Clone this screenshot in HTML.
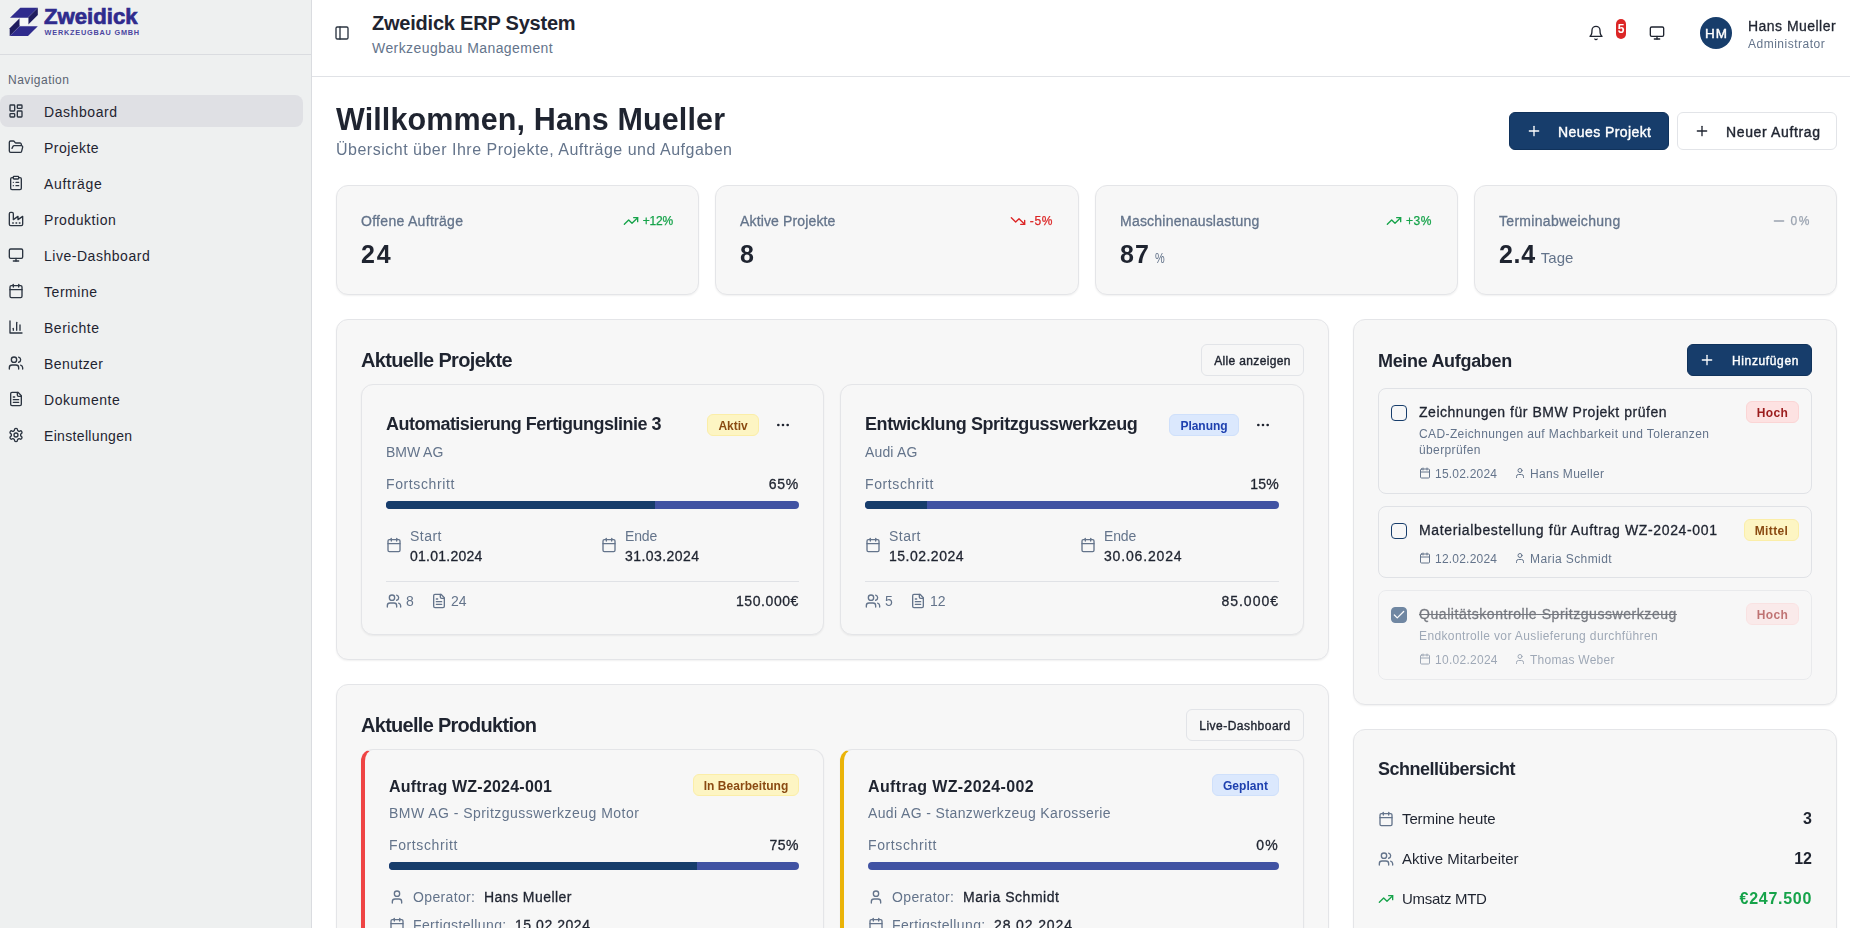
<!DOCTYPE html>
<html lang="de">
<head>
<meta charset="utf-8">
<title>Zweidick ERP System</title>
<style>
*{box-sizing:border-box;margin:0;padding:0}
html,body{width:1850px;height:928px;overflow:hidden;background:#fff}
body{font-family:"Liberation Sans",sans-serif;color:#1f2430;position:relative;font-size:14px}
svg{display:block}
.ic{fill:none;stroke:currentColor;stroke-width:2;stroke-linecap:round;stroke-linejoin:round}
.abs{position:absolute}
.muted{color:#64748b}
/* sidebar */
#side{position:absolute;left:0;top:0;width:312px;height:928px;background:#eef0f0;border-right:1px solid #dadce0}
#side .hd{position:absolute;left:0;top:0;width:311px;height:55px;border-bottom:1px solid #dadce0}
#side .lbl{position:absolute;left:8px;top:72px;font-size:12px;line-height:16px;color:#5b6472}
.nav{position:absolute;left:0;width:303px;height:32px;border-radius:8px;color:#1f2430;font-size:14px;line-height:32px}
.nav.on{background:#dfe0e4}
.nav svg{position:absolute;left:8px;top:8px;width:16px;height:16px;color:#2b3440}
.nav span{position:absolute;left:44px;top:1px;white-space:nowrap}
/* header */
#top{position:absolute;left:312px;top:0;width:1538px;height:77px;border-bottom:1px solid #e0e2e6;background:#fff}
/* main */
.card{position:absolute;background:#f7f7f7;border:1px solid #e4e5e8;border-radius:12px;box-shadow:0 1px 2px rgba(0,0,0,.06)}
.btn{position:absolute;border-radius:6px;font-size:14px;font-weight:normal;-webkit-text-stroke:.4px;white-space:nowrap}
.btn.navy{background:#173d6b;color:#fff;border:1px solid #10325b}
.btn.out{background:#fff;border:1px solid #e2e4e8;color:#1f2430}
.t{position:absolute;white-space:nowrap}
.badge{position:absolute;border-radius:6px;font-size:12px;font-weight:bold;text-align:center;white-space:nowrap}
.bar{position:absolute;height:8px;border-radius:4px;background:#4153a3;overflow:hidden}
.bar i{display:block;height:8px;background:#173d6b}

.sl{left:24px;top:25px;font-size:14px;line-height:20px;-webkit-text-stroke:.3px}
.sn{left:24px;top:52px;font-size:25px;line-height:32px;font-weight:bold;color:#1f2430}
.sn .un{font-weight:normal;color:#64748b;letter-spacing:0}
.tr{position:absolute;right:25px;top:25px;height:20px;display:flex;align-items:center;font-size:12px;line-height:20px}
.tr svg{width:16px;height:16px;margin-right:4px}
.tr span{-webkit-text-stroke:.25px}
.tr.up{color:#16a34a}.tr.dn{color:#dc2626}.tr.fl{color:#9aa3b0}

.card.in{border-radius:12px}
.s14{font-size:14px;line-height:20px}
.s12{font-size:12px}
.med{color:#1f2430;-webkit-text-stroke:.3px}
.r{text-align:right}
.ct{font-size:20px;line-height:28px;font-weight:bold;color:#1f2430}
.ct2{font-size:18px;line-height:28px;font-weight:bold;color:#1f2430}
.pt{left:24px;top:25px;font-size:18px;line-height:28px;font-weight:bold;color:#1f2430}
.pdt{left:24px;top:25px;font-size:16px;line-height:24px;font-weight:bold;color:#1f2430}
.btn.sm{font-size:12px;line-height:32px;text-align:center;background:transparent}
.btn.navy.sm{background:#173d6b}
.by{background:#fdf5c3;border:1px solid #fbeea8;color:#8a4a12}
.bb{background:#dbe8fd;border:1px solid #cfe0fb;color:#1e40af}
.br{background:#fde2e2;border:1px solid #fbd5d5;color:#9b1c1c}
.task{position:absolute;left:1378px;width:434px;border:1px solid #e0e2e6;border-radius:8px}
.task.done{opacity:.6}
.task.done .tt{text-decoration:line-through}
.cb{position:absolute;left:12px;top:16px;width:16px;height:16px;border:1px solid #173d6b;border-radius:4px}
.cb.on{background:#173d6b;display:flex;align-items:center;justify-content:center}
.qv{font-size:16px;line-height:24px;font-weight:bold;color:#1f2430}
</style>
<style id="fit">
#h-title{letter-spacing:-0.217px}
#h-sub{letter-spacing:0.427px}
#h-name{letter-spacing:0.465px}
#h-role{letter-spacing:0.501px}
#h1{letter-spacing:0.124px}
#h1sub{letter-spacing:0.502px}
#b-np{letter-spacing:0.422px}
#b-na{letter-spacing:0.634px}
#s1l{letter-spacing:0.298px}
#s2l{letter-spacing:0.145px}
#s3l{letter-spacing:0.215px}
#s4l{letter-spacing:0.298px}
#s1t{letter-spacing:-0.177px}
#s2t{letter-spacing:0.628px}
#s3t{letter-spacing:0.570px}
#s4t{letter-spacing:1.556px}
#c1t{letter-spacing:-0.662px}
#c2t{letter-spacing:-0.717px}
#c3t{letter-spacing:-0.319px}
#c4t{letter-spacing:-0.510px}
#b-all{letter-spacing:0.353px}
#b-live{letter-spacing:0.483px}
#b-add{letter-spacing:0.631px}
#p1{letter-spacing:-0.520px}
#p2{letter-spacing:-0.426px}
#p1b{letter-spacing:-0.036px}
#p2b{letter-spacing:-0.057px}
#p1c{letter-spacing:-0.053px}
#p2c{letter-spacing:0.154px}
#p1f{letter-spacing:0.607px}
#p2f{letter-spacing:0.607px}
#d1f{letter-spacing:0.607px}
#d2f{letter-spacing:0.607px}
#p1p{letter-spacing:0.734px}
#p2p{letter-spacing:0.234px}
#p1s1{letter-spacing:0.455px}
#p2s1{letter-spacing:0.455px}
#p1s2{letter-spacing:0.247px}
#p1e1{letter-spacing:-0.168px}
#p2e1{letter-spacing:-0.168px}
#p1e2{letter-spacing:0.436px}
#p1pr{letter-spacing:0.585px}
#p2s2{letter-spacing:0.491px}
#p2e2{letter-spacing:0.836px}
#p2pr{letter-spacing:0.998px}
#d1{letter-spacing:0.214px}
#d2{letter-spacing:0.364px}
#d1b{letter-spacing:0.045px}
#d2b{letter-spacing:0.055px}
#d1s{letter-spacing:0.464px}
#d2s{letter-spacing:0.371px}
#d1o1{letter-spacing:0.357px}
#d2o1{letter-spacing:0.357px}
#d1o2{letter-spacing:0.447px}
#d2o2{letter-spacing:0.544px}
#d1f1{letter-spacing:0.376px}
#d2f1{letter-spacing:0.376px}
#d1f2{letter-spacing:0.547px}
#d2f2{letter-spacing:0.880px}
#d1p{letter-spacing:0.484px}
#d2p{letter-spacing:1.266px}
#t1{letter-spacing:0.520px}
#t2{letter-spacing:0.644px}
#t3{letter-spacing:0.557px}
#t1b{letter-spacing:0.333px}
#t2b{letter-spacing:0.391px}
#t3b{letter-spacing:0.333px}
#t1d{letter-spacing:0.386px}
#t3d{letter-spacing:0.380px}
#t1dt{letter-spacing:0.215px}
#t2dt{letter-spacing:0.215px}
#t3dt{letter-spacing:0.271px}
#t1n{letter-spacing:0.300px}
#t2n{letter-spacing:0.409px}
#t3n{letter-spacing:0.235px}
#q1{letter-spacing:-0.114px}
#q2{letter-spacing:0.043px}
#q3{letter-spacing:-0.289px}
#q3v{letter-spacing:0.709px}
#sn1{letter-spacing:1.788px}
#sn3{letter-spacing:0.988px}
#sn4{letter-spacing:0.717px}
#n0{letter-spacing:0.562px}
#n1{letter-spacing:0.463px}
#n2{letter-spacing:0.695px}
#n3{letter-spacing:0.540px}
#n4{letter-spacing:0.527px}
#n5{letter-spacing:0.551px}
#n6{letter-spacing:0.520px}
#n7{letter-spacing:0.422px}
#n8{letter-spacing:0.526px}
#n9{letter-spacing:0.336px}
#navl{letter-spacing:0.466px}
</style></head>
<body>
<svg width="0" height="0" style="position:absolute">
<defs>
<symbol id="i-dash" viewBox="0 0 24 24"><rect width="7" height="9" x="3" y="3" rx="1"/><rect width="7" height="5" x="14" y="3" rx="1"/><rect width="7" height="9" x="14" y="12" rx="1"/><rect width="7" height="5" x="3" y="16" rx="1"/></symbol>
<symbol id="i-folder" viewBox="0 0 24 24"><path d="m6 14 1.5-2.9A2 2 0 0 1 9.24 10H20a2 2 0 0 1 1.94 2.5l-1.54 6a2 2 0 0 1-1.95 1.5H4a2 2 0 0 1-2-2V5a2 2 0 0 1 2-2h3.9a2 2 0 0 1 1.69.9l.81 1.2a2 2 0 0 0 1.67.9H18a2 2 0 0 1 2 2v2"/></symbol>
<symbol id="i-clip" viewBox="0 0 24 24"><rect width="8" height="4" x="8" y="2" rx="1" ry="1"/><path d="M16 4h2a2 2 0 0 1 2 2v14a2 2 0 0 1-2 2H6a2 2 0 0 1-2-2V6a2 2 0 0 1 2-2h2"/><path d="M12 11h4"/><path d="M12 16h4"/><path d="M8 11h.01"/><path d="M8 16h.01"/></symbol>
<symbol id="i-factory" viewBox="0 0 24 24"><path d="M2 20a2 2 0 0 0 2 2h16a2 2 0 0 0 2-2V8l-7 5V8l-7 5V4a2 2 0 0 0-2-2H4a2 2 0 0 0-2 2Z"/><path d="M17 18h1"/><path d="M12 18h1"/><path d="M7 18h1"/></symbol>
<symbol id="i-monitor" viewBox="0 0 24 24"><rect width="20" height="14" x="2" y="3" rx="2"/><line x1="8" x2="16" y1="21" y2="21"/><line x1="12" x2="12" y1="17" y2="21"/></symbol>
<symbol id="i-cal" viewBox="0 0 24 24"><path d="M8 2v4"/><path d="M16 2v4"/><rect width="18" height="18" x="3" y="4" rx="2"/><path d="M3 10h18"/></symbol>
<symbol id="i-chart" viewBox="0 0 24 24"><path d="M3 3v18h18"/><path d="M18 17V9"/><path d="M13 17V5"/><path d="M8 17v-3"/></symbol>
<symbol id="i-users" viewBox="0 0 24 24"><path d="M16 21v-2a4 4 0 0 0-4-4H6a4 4 0 0 0-4 4v2"/><circle cx="9" cy="7" r="4"/><path d="M22 21v-2a4 4 0 0 0-3-3.87"/><path d="M16 3.13a4 4 0 0 1 0 7.75"/></symbol>
<symbol id="i-file" viewBox="0 0 24 24"><path d="M15 2H6a2 2 0 0 0-2 2v16a2 2 0 0 0 2 2h12a2 2 0 0 0 2-2V7Z"/><path d="M14 2v4a2 2 0 0 0 2 2h4"/><path d="M10 9H8"/><path d="M16 13H8"/><path d="M16 17H8"/></symbol>
<symbol id="i-gear" viewBox="0 0 24 24"><path d="M12.22 2h-.44a2 2 0 0 0-2 2v.18a2 2 0 0 1-1 1.73l-.43.25a2 2 0 0 1-2 0l-.15-.08a2 2 0 0 0-2.73.73l-.22.38a2 2 0 0 0 .73 2.73l.15.1a2 2 0 0 1 1 1.72v.51a2 2 0 0 1-1 1.74l-.15.09a2 2 0 0 0-.73 2.73l.22.38a2 2 0 0 0 2.73.73l.15-.08a2 2 0 0 1 2 0l.43.25a2 2 0 0 1 1 1.73V20a2 2 0 0 0 2 2h.44a2 2 0 0 0 2-2v-.18a2 2 0 0 1 1-1.73l.43-.25a2 2 0 0 1 2 0l.15.08a2 2 0 0 0 2.73-.73l.22-.39a2 2 0 0 0-.73-2.73l-.15-.08a2 2 0 0 1-1-1.74v-.5a2 2 0 0 1 1-1.74l.15-.09a2 2 0 0 0 .73-2.73l-.22-.38a2 2 0 0 0-2.73-.73l-.15.08a2 2 0 0 1-2 0l-.43-.25a2 2 0 0 1-1-1.73V4a2 2 0 0 0-2-2z"/><circle cx="12" cy="12" r="3"/></symbol>
<symbol id="i-panel" viewBox="0 0 24 24"><rect width="18" height="18" x="3" y="3" rx="2"/><path d="M9 3v18"/></symbol>
<symbol id="i-bell" viewBox="0 0 24 24"><path d="M6 8a6 6 0 0 1 12 0c0 7 3 9 3 9H3s3-2 3-9"/><path d="M10.3 21a1.94 1.94 0 0 0 3.4 0"/></symbol>
<symbol id="i-plus" viewBox="0 0 24 24"><path d="M5 12h14"/><path d="M12 5v14"/></symbol>
<symbol id="i-up" viewBox="0 0 24 24"><polyline points="22 7 13.5 15.5 8.5 10.5 2 17"/><polyline points="16 7 22 7 22 13"/></symbol>
<symbol id="i-down" viewBox="0 0 24 24"><polyline points="22 17 13.5 8.5 8.5 13.5 2 7"/><polyline points="16 17 22 17 22 11"/></symbol>
<symbol id="i-minus" viewBox="0 0 24 24"><path d="M5 12h14"/></symbol>
<symbol id="i-user" viewBox="0 0 24 24"><path d="M19 21v-2a4 4 0 0 0-4-4H9a4 4 0 0 0-4 4v2"/><circle cx="12" cy="7" r="4"/></symbol>
<symbol id="i-dots" viewBox="0 0 24 24"><circle cx="12" cy="12" r="1"/><circle cx="19" cy="12" r="1"/><circle cx="5" cy="12" r="1"/></symbol>
<symbol id="i-check" viewBox="0 0 24 24"><path d="M20 6 9 17l-5-5"/></symbol>
</defs>
</svg>
<div id="side">
 <div class="hd">
  <svg class="abs" style="left:0;top:0" width="150" height="50" viewBox="0 0 150 50">
   <polygon points="20.3,7.7 37.8,7.7 27.7,17.8 10,17.8" fill="#2f2b8d"/>
   <polygon points="37.8,7.7 37.8,15 28.3,24.5 28.3,17.2" fill="#1f1c5e"/>
   <polygon points="19.6,18.3 19.6,26 9.7,35.9 9.7,28.2" fill="#1f1c5e"/>
   <polygon points="19.6,26.2 37.8,26.2 28,35.9 9.7,35.9" fill="#2f2b8d"/>
   <rect x="19.8" y="18" width="8.4" height="7" fill="#f5f6f7"/>
   <text x="44" y="23.9" font-family="Liberation Sans" font-weight="bold" font-size="22" fill="#2f2b8d" stroke="#2f2b8d" stroke-width="0.7" textLength="93.5" lengthAdjust="spacingAndGlyphs">Zweidick</text>
   <text x="44.6" y="34.9" font-family="Liberation Sans" font-weight="bold" font-size="7.3" fill="#4a46a0" textLength="94.5" lengthAdjust="spacing">WERKZEUGBAU GMBH</text>
  </svg>
 </div>
 <div class="lbl" id="navl">Navigation</div>
 <div class="nav on" style="top:95px"><svg class="ic"><use href="#i-dash"/></svg><span id="n0">Dashboard</span></div>
 <div class="nav" style="top:131px"><svg class="ic"><use href="#i-folder"/></svg><span id="n1">Projekte</span></div>
 <div class="nav" style="top:167px"><svg class="ic"><use href="#i-clip"/></svg><span id="n2">Aufträge</span></div>
 <div class="nav" style="top:203px"><svg class="ic"><use href="#i-factory"/></svg><span id="n3">Produktion</span></div>
 <div class="nav" style="top:239px"><svg class="ic"><use href="#i-monitor"/></svg><span id="n4">Live-Dashboard</span></div>
 <div class="nav" style="top:275px"><svg class="ic"><use href="#i-cal"/></svg><span id="n5">Termine</span></div>
 <div class="nav" style="top:311px"><svg class="ic"><use href="#i-chart"/></svg><span id="n6">Berichte</span></div>
 <div class="nav" style="top:347px"><svg class="ic"><use href="#i-users"/></svg><span id="n7">Benutzer</span></div>
 <div class="nav" style="top:383px"><svg class="ic"><use href="#i-file"/></svg><span id="n8">Dokumente</span></div>
 <div class="nav" style="top:419px"><svg class="ic"><use href="#i-gear"/></svg><span id="n9">Einstellungen</span></div>
</div>

<div id="top">
 <svg class="ic abs" style="left:22px;top:25px;width:16px;height:16px;color:#2b3440"><use href="#i-panel"/></svg>
 <div class="t" id="h-title" style="left:60px;top:10px;font-size:20px;line-height:26px;font-weight:bold;color:#1f2430">Zweidick ERP System</div>
 <div class="t muted" id="h-sub" style="left:60px;top:39px;font-size:14px;line-height:18px">Werkzeugbau Management</div>
<div style="position:absolute;left:0;top:0;width:1538px;height:76px;will-change:transform">
 <svg class="ic abs" style="left:1276px;top:25px;width:16px;height:16px;color:#1f2430"><use href="#i-bell"/></svg>
 <div class="abs" style="left:1304px;top:19px;width:10px;height:20px;border-radius:5px;background:#dc2626;color:#fff;font-size:12px;font-weight:bold;line-height:20px;text-align:center">5</div>
 <svg class="ic abs" style="left:1337px;top:25px;width:16px;height:16px;color:#1f2430"><use href="#i-monitor"/></svg>
 <div class="abs" style="left:1388px;top:17px;width:32px;height:32px;border-radius:16px;background:#173d6b;color:#fff;font-size:13.5px;line-height:34px;text-align:center;letter-spacing:1px;text-indent:1px;-webkit-text-stroke:.4px" id="avatar">HM</div>
 <div class="t" id="h-name" style="left:1436px;top:17px;font-size:14px;line-height:18px;color:#1f2430;-webkit-text-stroke:.3px">Hans Mueller</div>
 <div class="t muted" id="h-role" style="left:1436px;top:36px;font-size:12px;line-height:16px">Administrator</div>
</div>
</div>

<div id="mw" style="position:absolute;left:0;top:0;width:1850px;height:928px;will-change:transform">
<div class="t" id="h1" style="left:336px;top:101px;font-size:30.5px;line-height:36px;font-weight:bold;color:#1f2430">Willkommen, Hans Mueller</div>
<div class="t muted" id="h1sub" style="left:336px;top:138px;font-size:16px;line-height:24px">Übersicht über Ihre Projekte, Aufträge und Aufgaben</div>
<div class="btn navy" style="left:1509px;top:112px;width:160px;height:38px"><svg class="ic abs" style="left:16px;top:10px;width:16px;height:16px"><use href="#i-plus"/></svg><span class="t" id="b-np" style="left:48px;top:10px;line-height:18px">Neues Projekt</span></div>
<div class="btn out" style="left:1677px;top:112px;width:160px;height:38px"><svg class="ic abs" style="left:16px;top:10px;width:16px;height:16px"><use href="#i-plus"/></svg><span class="t" id="b-na" style="left:48px;top:10px;line-height:18px">Neuer Auftrag</span></div>

<!-- stat cards -->
<div class="card stat" style="left:336px;top:185px;width:363px;height:110px">
 <div class="t muted sl" id="s1l">Offene Aufträge</div><div class="t sn" id="sn1">24</div>
 <div class="tr up"><svg class="ic"><use href="#i-up"/></svg><span id="s1t">+12%</span></div>
</div>
<div class="card stat" style="left:715px;top:185px;width:364px;height:110px">
 <div class="t muted sl" id="s2l">Aktive Projekte</div><div class="t sn" id="sn2">8</div>
 <div class="tr dn"><svg class="ic"><use href="#i-down"/></svg><span id="s2t">-5%</span></div>
</div>
<div class="card stat" style="left:1095px;top:185px;width:363px;height:110px">
 <div class="t muted sl" id="s3l">Maschinenauslastung</div><div class="t sn" id="sn3">87<span class="un" style="font-size:14px;margin-left:5px;display:inline-block;transform:scaleX(.78);transform-origin:left"> %</span></div>
 <div class="tr up"><svg class="ic"><use href="#i-up"/></svg><span id="s3t">+3%</span></div>
</div>
<div class="card stat" style="left:1474px;top:185px;width:363px;height:110px">
 <div class="t muted sl" id="s4l">Terminabweichung</div><div class="t sn" id="sn4">2.4<span class="un" style="font-size:15px;margin-left:1px"> Tage</span></div>
 <div class="tr fl"><svg class="ic"><use href="#i-minus"/></svg><span id="s4t">0%</span></div>
</div>
<!--M2S-->
<div class="card" style="left:336px;top:319px;width:993px;height:341px"></div>
<div class="t ct" id="c1t" style="left:361px;top:346px">Aktuelle Projekte</div>
<div class="btn out sm" style="left:1201px;top:344px;width:103px;height:32px"><span id="b-all">Alle anzeigen</span></div>

<div class="card in" style="left:361px;top:384px;width:463px;height:251px">
 <div class="t pt" id="p1">Automatisierung Fertigungslinie 3</div>
 <div class="badge by" style="right:64px;top:29px;width:52px;height:22px;line-height:22px" ><span id="p1b">Aktiv</span></div>
 <svg class="ic abs" style="right:32px;top:32px;width:16px;height:16px;color:#1f2430"><use href="#i-dots"/></svg>
 <div class="t muted s14" id="p1c" style="left:24px;top:57px">BMW AG</div>
 <div class="t muted s14" style="left:24px;top:89px" id="p1f">Fortschritt</div>
 <div class="t s14 med r" style="right:24px;top:89px" id="p1p">65%</div>
 <div class="bar" style="left:24px;top:116px;right:24px"><i style="width:269.4px"></i></div>
 <svg class="ic abs muted" style="left:24px;top:152px;width:16px;height:16px"><use href="#i-cal"/></svg>
 <div class="t muted s14" style="left:48px;top:141px" id="p1s1">Start</div>
 <div class="t s14 med" style="left:48px;top:161px" id="p1s2">01.01.2024</div>
 <svg class="ic abs muted" style="left:239px;top:152px;width:16px;height:16px"><use href="#i-cal"/></svg>
 <div class="t muted s14" style="left:263px;top:141px" id="p1e1">Ende</div>
 <div class="t s14 med" style="left:263px;top:161px" id="p1e2">31.03.2024</div>
 <div class="abs" style="left:24px;top:196px;right:24px;height:1px;background:#e0e2e6"></div>
 <svg class="ic abs muted" style="left:24px;top:208px;width:16px;height:16px"><use href="#i-users"/></svg>
 <div class="t muted s14" style="left:44px;top:206px" id="p1u">8</div>
 <svg class="ic abs muted" style="left:69px;top:208px;width:16px;height:16px"><use href="#i-file"/></svg>
 <div class="t muted s14" style="left:89px;top:206px" id="p1fl">24</div>
 <div class="t s14 med r" style="right:24px;top:206px" id="p1pr">150.000€</div>
</div>

<div class="card in" style="left:840px;top:384px;width:464px;height:251px">
 <div class="t pt" id="p2">Entwicklung Spritzgusswerkzeug</div>
 <div class="badge bb" style="right:64px;top:29px;width:70px;height:22px;line-height:22px" ><span id="p2b">Planung</span></div>
 <svg class="ic abs" style="right:32px;top:32px;width:16px;height:16px;color:#1f2430"><use href="#i-dots"/></svg>
 <div class="t muted s14" id="p2c" style="left:24px;top:57px">Audi AG</div>
 <div class="t muted s14" style="left:24px;top:89px" id="p2f">Fortschritt</div>
 <div class="t s14 med r" style="right:24px;top:89px" id="p2p">15%</div>
 <div class="bar" style="left:24px;top:116px;right:24px"><i style="width:62.1px"></i></div>
 <svg class="ic abs muted" style="left:24px;top:152px;width:16px;height:16px"><use href="#i-cal"/></svg>
 <div class="t muted s14" style="left:48px;top:141px" id="p2s1">Start</div>
 <div class="t s14 med" style="left:48px;top:161px" id="p2s2">15.02.2024</div>
 <svg class="ic abs muted" style="left:239px;top:152px;width:16px;height:16px"><use href="#i-cal"/></svg>
 <div class="t muted s14" style="left:263px;top:141px" id="p2e1">Ende</div>
 <div class="t s14 med" style="left:263px;top:161px" id="p2e2">30.06.2024</div>
 <div class="abs" style="left:24px;top:196px;right:24px;height:1px;background:#e0e2e6"></div>
 <svg class="ic abs muted" style="left:24px;top:208px;width:16px;height:16px"><use href="#i-users"/></svg>
 <div class="t muted s14" style="left:44px;top:206px" id="p2u">5</div>
 <svg class="ic abs muted" style="left:69px;top:208px;width:16px;height:16px"><use href="#i-file"/></svg>
 <div class="t muted s14" style="left:89px;top:206px" id="p2fl">12</div>
 <div class="t s14 med r" style="right:24px;top:206px" id="p2pr">85.000€</div>
</div>

<div class="card" style="left:336px;top:684px;width:993px;height:330px"></div>
<div class="t ct" id="c2t" style="left:361px;top:711px">Aktuelle Produktion</div>
<div class="btn out sm" style="left:1186px;top:709px;width:118px;height:32px"><span id="b-live">Live-Dashboard</span></div>

<div class="card in prodc" style="left:361px;top:749px;width:463px;height:230px;border-left:4px solid #ef4444">
 <div class="t pdt" id="d1">Auftrag WZ-2024-001</div>
 <div class="badge by" style="right:24px;top:24px;width:106px;height:22px;line-height:22px"><span id="d1b">In Bearbeitung</span></div>
 <div class="t muted s14" style="left:24px;top:53px" id="d1s">BMW AG - Spritzgusswerkzeug Motor</div>
 <div class="t muted s14" style="left:24px;top:85px" id="d1f">Fortschritt</div>
 <div class="t s14 med r" style="right:24px;top:85px" id="d1p">75%</div>
 <div class="bar" style="left:24px;top:112px;right:24px"><i style="width:307.5px"></i></div>
 <svg class="ic abs muted" style="left:24px;top:139px;width:16px;height:16px"><use href="#i-user"/></svg>
 <div class="t muted s14" style="left:48px;top:137px" id="d1o1">Operator:</div>
 <div class="t s14 med" style="left:119px;top:137px" id="d1o2">Hans Mueller</div>
 <svg class="ic abs muted" style="left:24px;top:167px;width:16px;height:16px"><use href="#i-cal"/></svg>
 <div class="t muted s14" style="left:48px;top:165px" id="d1f1">Fertigstellung:</div>
 <div class="t s14 med" style="left:150px;top:165px" id="d1f2">15.02.2024</div>
</div>

<div class="card in prodc" style="left:840px;top:749px;width:464px;height:230px;border-left:4px solid #eab308">
 <div class="t pdt" id="d2">Auftrag WZ-2024-002</div>
 <div class="badge bb" style="right:24px;top:24px;width:67px;height:22px;line-height:22px"><span id="d2b">Geplant</span></div>
 <div class="t muted s14" style="left:24px;top:53px" id="d2s">Audi AG - Stanzwerkzeug Karosserie</div>
 <div class="t muted s14" style="left:24px;top:85px" id="d2f">Fortschritt</div>
 <div class="t s14 med r" style="right:24px;top:85px" id="d2p">0%</div>
 <div class="bar" style="left:24px;top:112px;right:24px"><i style="width:0.0px"></i></div>
 <svg class="ic abs muted" style="left:24px;top:139px;width:16px;height:16px"><use href="#i-user"/></svg>
 <div class="t muted s14" style="left:48px;top:137px" id="d2o1">Operator:</div>
 <div class="t s14 med" style="left:119px;top:137px" id="d2o2">Maria Schmidt</div>
 <svg class="ic abs muted" style="left:24px;top:167px;width:16px;height:16px"><use href="#i-cal"/></svg>
 <div class="t muted s14" style="left:48px;top:165px" id="d2f1">Fertigstellung:</div>
 <div class="t s14 med" style="left:150px;top:165px" id="d2f2">28.02.2024</div>
</div>

<div class="card" style="left:1353px;top:319px;width:484px;height:386px"></div>
<div class="t ct2" id="c3t" style="left:1378px;top:347px">Meine Aufgaben</div>
<div class="btn navy sm" style="left:1687px;top:344px;width:125px;height:32px"><svg class="ic abs" style="left:11px;top:7px;width:16px;height:16px"><use href="#i-plus"/></svg><span class="t" id="b-add" style="left:44px;top:8px;line-height:16px">Hinzufügen</span></div>

<div class="task" style="top:388px;height:106px">
 <div class="cb"></div>
 <div class="t s14 med tt" style="left:40px;top:13px" id="t1">Zeichnungen für BMW Projekt prüfen</div>
 <div class="badge br" style="left:367px;top:12px;width:53px;height:22px;line-height:22px"><span id="t1b">Hoch</span></div>
 <div class="t muted s12" style="left:40px;top:37px;line-height:16px;white-space:normal;width:300px" id="t1d">CAD-Zeichnungen auf Machbarkeit und Toleranzen<br>überprüfen</div>
 <svg class="ic abs muted" style="left:40px;top:78px;width:12px;height:12px"><use href="#i-cal"/></svg>
 <div class="t muted s12" style="left:56px;top:77px;line-height:16px" id="t1dt">15.02.2024</div>
 <svg class="ic abs muted" style="left:135px;top:78px;width:12px;height:12px"><use href="#i-user"/></svg>
 <div class="t muted s12" style="left:151px;top:77px;line-height:16px" id="t1n">Hans Mueller</div>
</div>

<div class="task" style="top:506px;height:72px">
 <div class="cb"></div>
 <div class="t s14 med tt" style="left:40px;top:13px" id="t2">Materialbestellung für Auftrag WZ-2024-001</div>
 <div class="badge by" style="left:365px;top:12px;width:55px;height:22px;line-height:22px"><span id="t2b">Mittel</span></div>
 
 <svg class="ic abs muted" style="left:40px;top:45px;width:12px;height:12px"><use href="#i-cal"/></svg>
 <div class="t muted s12" style="left:56px;top:44px;line-height:16px" id="t2dt">12.02.2024</div>
 <svg class="ic abs muted" style="left:135px;top:45px;width:12px;height:12px"><use href="#i-user"/></svg>
 <div class="t muted s12" style="left:151px;top:44px;line-height:16px" id="t2n">Maria Schmidt</div>
</div>

<div class="task done" style="top:590px;height:90px">
 <div class="cb on"><svg class="ic" style="width:14px;height:14px;color:#fff;stroke-width:2.2"><use href="#i-check"/></svg></div>
 <div class="t s14 med tt" style="left:40px;top:13px" id="t3">Qualitätskontrolle Spritzgusswerkzeug</div>
 <div class="badge br" style="left:367px;top:12px;width:53px;height:22px;line-height:22px"><span id="t3b">Hoch</span></div>
 <div class="t muted s12" style="left:40px;top:37px;line-height:16px;white-space:normal;width:300px" id="t3d">Endkontrolle vor Auslieferung durchführen</div>
 <svg class="ic abs muted" style="left:40px;top:62px;width:12px;height:12px"><use href="#i-cal"/></svg>
 <div class="t muted s12" style="left:56px;top:61px;line-height:16px" id="t3dt">10.02.2024</div>
 <svg class="ic abs muted" style="left:135px;top:62px;width:12px;height:12px"><use href="#i-user"/></svg>
 <div class="t muted s12" style="left:151px;top:61px;line-height:16px" id="t3n">Thomas Weber</div>
</div>

<div class="card" style="left:1353px;top:729px;width:484px;height:260px"></div>
<div class="t ct2" id="c4t" style="left:1378px;top:755px">Schnellübersicht</div>
<svg class="ic abs muted" style="left:1378px;top:811px;width:16px;height:16px"><use href="#i-cal"/></svg>
<div class="t s14" style="left:1402px;top:809px;font-size:15px" id="q1">Termine heute</div>
<div class="t r qv" style="right:38px;top:807px">3</div>
<svg class="ic abs muted" style="left:1378px;top:851px;width:16px;height:16px"><use href="#i-users"/></svg>
<div class="t s14" style="left:1402px;top:849px;font-size:15px" id="q2">Aktive Mitarbeiter</div>
<div class="t r qv" style="right:38px;top:847px">12</div>
<svg class="ic abs" style="left:1378px;top:891px;width:16px;height:16px;color:#16a34a"><use href="#i-up"/></svg>
<div class="t s14" style="left:1402px;top:889px;font-size:15px" id="q3">Umsatz MTD</div>
<div class="t r qv" style="right:38px;top:887px;color:#16a34a" id="q3v">€247.500</div>
<!--M2E-->
</div>

</body>
</html>
